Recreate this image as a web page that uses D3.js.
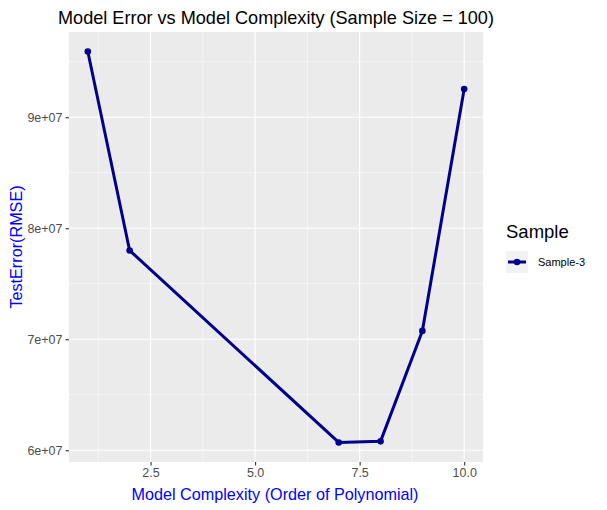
<!DOCTYPE html>
<html><head><meta charset="utf-8">
<script src="https://cdn.jsdelivr.net/npm/d3@7"></script>
<style>body{margin:0;background:#fff}text{font-family:"Liberation Sans",Arial,sans-serif}</style>
</head><body>
<script>
const complexity = [1, 2, 7, 8, 9, 10];
const testError = [95920000, 78000000, 60700000, 60800000, 70750000, 92540000];
const xTicks = [2.5, 5.0, 7.5, 10.0];
const xTickLabels = ["2.5", "5.0", "7.5", "10.0"];
const yTicks = [60000000, 70000000, 80000000, 90000000];
const yTickLabels = ["6e+07", "7e+07", "8e+07", "9e+07"];
const xMinor = [1.25, 3.75, 6.25, 8.75];
const yMinor = [65000000, 75000000, 85000000, 95000000];
const seriesName = "Sample-3";

const W = 607, H = 510;
const P = {l: 69, r: 483, t: 32, b: 462};
const svg = d3.select("body").append("svg").attr("width", W).attr("height", H);

const xs = d3.scaleLinear().domain([0.55, 10.45]).range([P.l, P.r]);
const ys = d3.scaleLinear().domain([58940000, 97680000]).range([P.b, P.t]);

svg.append("rect").attr("x", P.l).attr("y", P.t).attr("width", P.r - P.l).attr("height", P.b - P.t).attr("fill", "#EBEBEB");

const g = svg.append("g");
g.selectAll(".xmin").data(xMinor).join("line").attr("x1", d => xs(d)).attr("x2", d => xs(d)).attr("y1", P.t).attr("y2", P.b).attr("stroke", "#fff").attr("stroke-width", 0.55);
g.selectAll(".ymin").data(yMinor).join("line").attr("y1", d => ys(d)).attr("y2", d => ys(d)).attr("x1", P.l).attr("x2", P.r).attr("stroke", "#fff").attr("stroke-width", 0.55);
g.selectAll(".xmaj").data(xTicks).join("line").attr("x1", d => xs(d)).attr("x2", d => xs(d)).attr("y1", P.t).attr("y2", P.b).attr("stroke", "#fff").attr("stroke-width", 1.1);
g.selectAll(".ymaj").data(yTicks).join("line").attr("y1", d => ys(d)).attr("y2", d => ys(d)).attr("x1", P.l).attr("x2", P.r).attr("stroke", "#fff").attr("stroke-width", 1.1);

// axes
const xAxis = d3.axisBottom(xs).tickValues(xTicks).tickFormat((d, i) => xTickLabels[i]).tickSize(3.5).tickPadding(3);
const xa = svg.append("g").attr("transform", `translate(0,${P.b})`).call(xAxis);
xa.select(".domain").remove();
xa.selectAll("line").attr("stroke", "#333").attr("stroke-width", 1.1);
xa.selectAll("text").attr("fill", "#4D4D4D").style("font-size", "12.5px").style("font-family", "Liberation Sans, Arial, sans-serif");

const yAxis = d3.axisLeft(ys).tickValues(yTicks).tickFormat((d, i) => yTickLabels[i]).tickSize(3.5).tickPadding(3);
const ya = svg.append("g").attr("transform", `translate(${P.l},0)`).call(yAxis);
ya.select(".domain").remove();
ya.selectAll("line").attr("stroke", "#333").attr("stroke-width", 1.1);
ya.selectAll("text").attr("fill", "#4D4D4D").style("font-size", "12.5px").style("font-family", "Liberation Sans, Arial, sans-serif");

// line and points
const data = complexity.map((c, i) => ({x: c, y: testError[i]}));
svg.append("path").datum(data).attr("fill", "none").attr("stroke", "#00008B").attr("stroke-width", 3)
  .attr("stroke-linejoin", "round")
  .attr("d", d3.line().x(d => xs(d.x)).y(d => ys(d.y)));
svg.selectAll(".pt").data(data).join("circle").attr("cx", d => xs(d.x)).attr("cy", d => ys(d.y)).attr("r", 3.3).attr("fill", "#00008B");

// titles
svg.append("text").attr("x", (P.l + P.r) / 2).attr("y", 23.5).attr("text-anchor", "middle").style("font-size", "18.1px").attr("fill", "#000").text("Model Error vs Model Complexity (Sample Size = 100)");
svg.append("text").attr("x", (P.l + P.r) / 2 - 1).attr("y", 500).attr("text-anchor", "middle").style("font-size", "16.2px").attr("fill", "#0000FF").text("Model Complexity (Order of Polynomial)");
svg.append("text").attr("transform", `translate(22,${(P.t + P.b) / 2}) rotate(-90)`).attr("text-anchor", "middle").style("font-size", "16.2px").attr("fill", "#0000FF").text("TestError(RMSE)");

// legend
svg.append("text").attr("x", 506).attr("y", 238.3).style("font-size", "18.5px").attr("fill", "#000").text("Sample");
svg.append("rect").attr("x", 506).attr("y", 251).attr("width", 22).attr("height", 22).attr("fill", "#F2F2F2");
svg.append("line").attr("x1", 508).attr("x2", 526).attr("y1", 262).attr("y2", 262).attr("stroke", "#00008B").attr("stroke-width", 3);
svg.append("circle").attr("cx", 517).attr("cy", 262).attr("r", 3.3).attr("fill", "#00008B");
svg.append("text").attr("x", 538).attr("y", 266).style("font-size", "11px").attr("fill", "#000").text(seriesName);
</script>
</body></html>
